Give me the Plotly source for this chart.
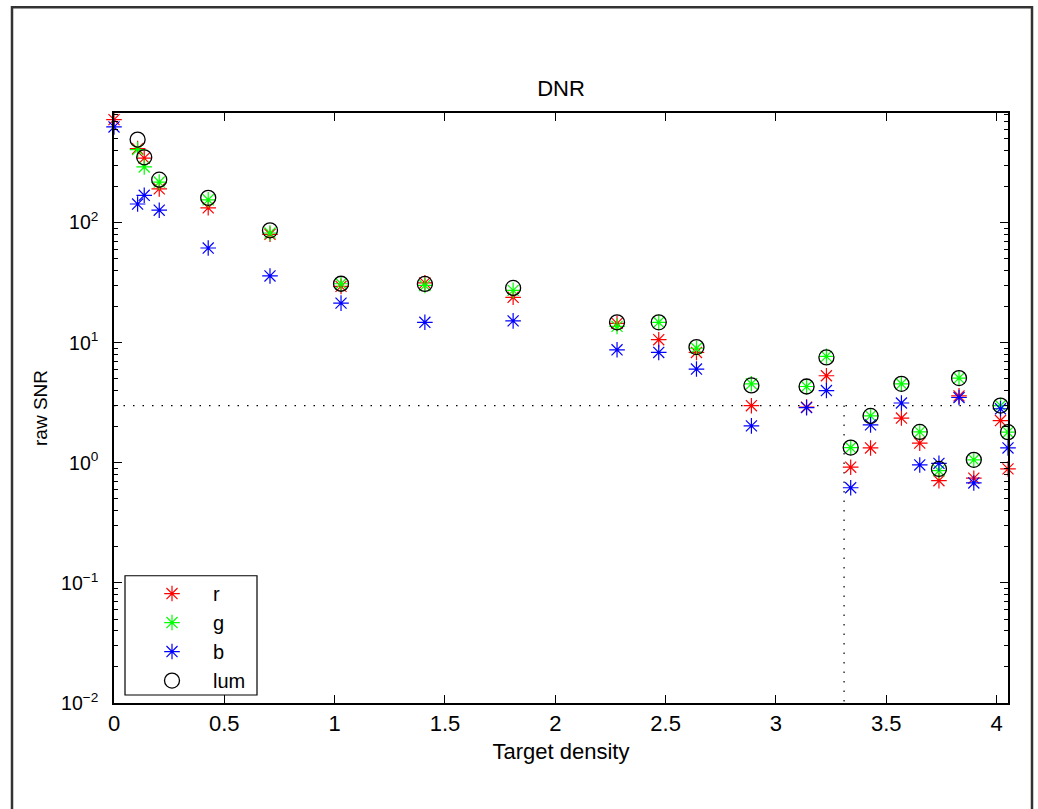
import math
import plotly.graph_objects as go

# Target density values (x)
density = [0.0, 0.107, 0.137, 0.205, 0.427, 0.707, 1.029, 1.409, 1.809, 2.280, 2.469,
           2.640, 2.889, 3.139, 3.229, 3.339, 3.429, 3.569, 3.652, 3.739, 3.830,
           3.897, 4.018, 4.052]

snr_r = [721, 414, 345, 191, 133, 80, 29.5, 31.5, 23.9, 14.5, 10.6, 8.3, 2.99, 2.91,
         5.31, 0.92, 1.33, 2.36, 1.46, 0.71, 3.61, 0.745, 2.25, 0.89]
snr_g = [820, 406, 291, 218, 155, 82, 31, 30, 27.3, 13.7, 14.8, 9.0, 4.55, 4.32,
         7.7, 1.34, 2.46, 4.55, 1.81, 0.86, 5.08, 1.06, 3.0, 1.80]
snr_b = [627, 143, 169, 127, 61.5, 36, 21.4, 14.8, 15.2, 8.74, 8.3, 6.04, 2.03, 2.88,
         4.0, 0.62, 2.07, 3.15, 0.96, 0.99, 3.5, 0.68, 2.82, 1.33]
snr_lum = [836, 492, 350, 228, 161, 86.3, 31, 30.9, 28.6, 14.8, 14.8, 9.2, 4.41, 4.32,
           7.55, 1.34, 2.46, 4.55, 1.81, 0.89, 5.08, 1.06, 3.0, 1.80]

x_tick_vals = [0, 0.5, 1, 1.5, 2, 2.5, 3, 3.5, 4]
x_tick_text = ["0", "0.5", "1", "1.5", "2", "2.5", "3", "3.5", "4"]
y_tick_vals = [0.01, 0.1, 1, 10, 100]
y_tick_text = ["10<sup>\u22122</sup>", "10<sup>\u22121</sup>", "10<sup>0</sup>",
               "10<sup>1</sup>", "10<sup>2</sup>"]

snr_threshold = 3.0
density_at_threshold = 3.309
x_min, x_max = 0.0, 4.052
y_min, y_max = 0.01, 819

FONT = "Liberation Sans, Arial, Helvetica, sans-serif"

fig = go.Figure()

dotted = dict(color="black", width=1.2, dash="1.5px,8px")
fig.add_trace(go.Scatter(x=[x_min, x_max], y=[snr_threshold, snr_threshold], mode="lines",
                         line=dotted, showlegend=False, hoverinfo="skip"))
fig.add_trace(go.Scatter(x=[density_at_threshold, density_at_threshold], y=[snr_threshold, y_min],
                         mode="lines", line=dotted, showlegend=False, hoverinfo="skip"))

series = [("r", snr_r, "#ff0000"), ("g", snr_g, "#00ff00"), ("b", snr_b, "#0000ff")]
for name, vals, col in series:
    fig.add_trace(go.Scatter(
        x=density, y=vals, mode="markers", name=name,
        marker=dict(symbol="asterisk-open", size=13, color=col, line=dict(color=col, width=1.2)),
        cliponaxis=False))
fig.add_trace(go.Scatter(
    x=density, y=snr_lum, mode="markers", name="lum",
    marker=dict(symbol="circle-open", size=15, color="black", line=dict(color="black", width=1.3)),
    cliponaxis=False))

fig.update_layout(
    width=1038, height=809,
    margin=dict(l=114, r=30, t=113, b=106),
    paper_bgcolor="white", plot_bgcolor="white",
    font=dict(family=FONT, size=21, color="black"),
    title=dict(text="DNR", x=0.5, xref="paper", xanchor="center", y=1 - 88 / 809,
               yanchor="middle", font=dict(size=22)),
    showlegend=True,
    legend=dict(x=(131 - 114) / 894, y=(703 - 574) / 590.3, xanchor="left", yanchor="top",
                bgcolor="rgba(0,0,0,0)", borderwidth=0, font=dict(size=20),
                tracegroupgap=0, itemwidth=72),
    xaxis=dict(range=[x_min, x_max], tickvals=x_tick_vals, ticktext=x_tick_text,
               ticks="inside", ticklen=8, tickcolor="black", showline=True,
               linecolor="black", linewidth=1.5, mirror="allticks", showgrid=False,
               zeroline=False, title=dict(text="Target density", standoff=8, font=dict(size=22)),
               tickfont=dict(size=22)),
    yaxis=dict(type="log", range=[math.log10(y_min), math.log10(y_max)],
               tickvals=y_tick_vals, ticktext=y_tick_text,
               ticks="inside", ticklen=8, tickcolor="black", showline=True,
               linecolor="black", linewidth=1.5, mirror="allticks", showgrid=False,
               zeroline=False, title=dict(text="raw SNR", standoff=8, font=dict(size=19)),
               tickfont=dict(size=19.5), ticklabelstandoff=10,
               minor=dict(dtick="D1", ticks="inside", ticklen=4, tickcolor="black",
                          showgrid=False)),
    shapes=[
        dict(type="rect", xref="paper", yref="paper", x0=(125 - 114) / 894, x1=(257 - 114) / 894,
             y0=(703 - 695) / 590.3, y1=(703 - 575.7) / 590.3,
             line=dict(color="black", width=1.2), fillcolor="white", layer="below"),
        dict(type="rect", xref="paper", yref="paper", x0=(12 - 114) / 894, x1=(1032 - 114) / 894,
             y0=(703 - 812) / 590.3, y1=(703 - 7) / 590.3,
             line=dict(color="#333333", width=2.5)),
    ],
)

fig.write_html("out.html", config={"displayModeBar": False},
               post_script="document.body.style.margin='0';")
